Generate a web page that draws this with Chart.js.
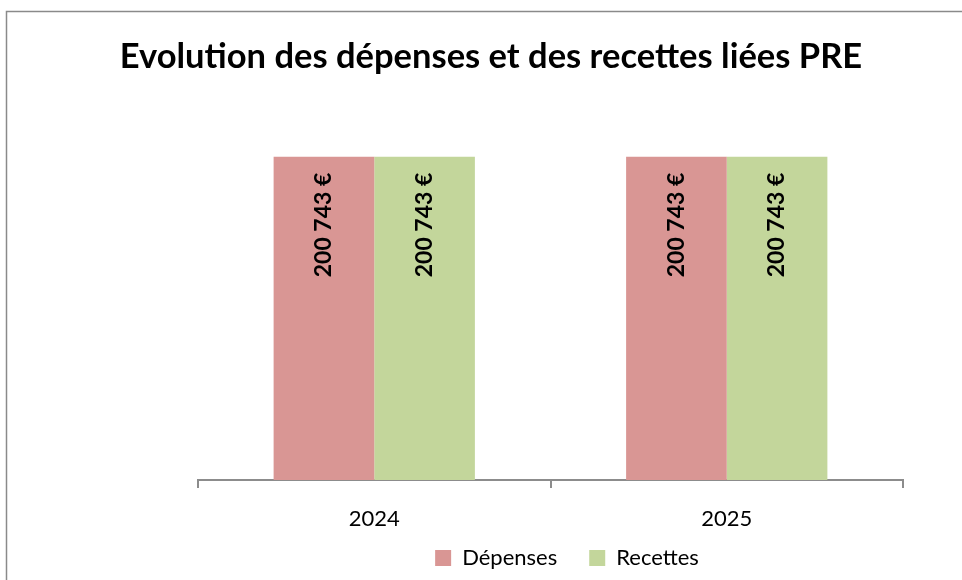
<!DOCTYPE html>
<html>
<head>
<meta charset="utf-8">
<script src="https://cdn.jsdelivr.net/npm/chart.js@4.4.1/dist/chart.umd.min.js"></script>
<style>
  html, body { margin: 0; padding: 0; background: #ffffff; }
  #wrap { width: 962px; height: 580px; }
</style>
</head>
<body>
<div id="wrap"><canvas id="c" width="962" height="580"></canvas></div>
<script>
const categories = ['2024', '2025'];
const depenses = [200743, 200743];
const recettes = [200743, 200743];
const seriesNames = ['Dépenses', 'Recettes'];
const titleText = 'Evolution des dépenses et des recettes liées PRE';

function fmtEuro(v) {
  return v.toString().replace(/\B(?=(\d{3})+(?!\d))/g, ' ') + ' €';
}

const frame = {
  id: 'frame',
  beforeDraw(chart) {
    const ctx = chart.ctx;
    ctx.save();
    ctx.strokeStyle = '#8a8a8a';
    ctx.lineWidth = 1.5;
    ctx.strokeRect(6.5, 11.5, 1100, 1000);
    ctx.restore();
  },
  afterLayout(chart) {
    const lg = chart.legend;
    if (lg) { lg.left += 76; lg.right += 76; }
    const xs = chart.scales.x;
    if (xs) { xs.bottom = xs.top + 70; }
  }
};

const barLabels = {
  id: 'barLabels',
  afterDatasetsDraw(chart) {
    const ctx = chart.ctx;
    ctx.save();
    ctx.font = 'bold 23px Lato';
    ctx.fillStyle = '#000000';
    ctx.textBaseline = 'middle';
    ctx.textAlign = 'right';
    chart.data.datasets.forEach((ds, di) => {
      const meta = chart.getDatasetMeta(di);
      meta.data.forEach((el, i) => {
        ctx.save();
        ctx.translate(el.x - 1, el.y + 16);
        ctx.rotate(-Math.PI / 2);
        ctx.fillText(fmtEuro(ds.data[i]), 0, 1);
        ctx.restore();
      });
    });
    ctx.restore();
  }
};

new Chart(document.getElementById('c'), {
  type: 'bar',
  data: {
    labels: categories,
    datasets: [
      { label: seriesNames[0], data: depenses, backgroundColor: '#D99694', borderWidth: 0 },
      { label: seriesNames[1], data: recettes, backgroundColor: '#C3D69B', borderWidth: 0 }
    ]
  },
  options: {
    responsive: false,
    animation: false,
    layout: { padding: { left: 20, right: 0, top: 0, bottom: 1 } },
    datasets: { bar: { categoryPercentage: 0.571, barPercentage: 1.0 } },
    plugins: {
      title: {
        display: true,
        text: titleText,
        color: '#000000',
        font: { family: 'Lato', size: 34.5, weight: 'bold' },
        padding: { top: 36, bottom: 0 }
      },
      legend: {
        display: true,
        position: 'bottom',
        labels: {
          color: '#000000',
          font: { family: 'Lato', size: 22 },
          boxWidth: 16,
          boxHeight: 16,
          padding: 32
        }
      },
      tooltip: { enabled: false }
    },
    scales: {
      x: {
        offset: true,
        grid: { display: true, drawOnChartArea: false, drawTicks: true, tickLength: 8, color: '#8c8c8c', lineWidth: 2, offset: true },
        border: { display: true, color: '#8c8c8c', width: 2 },
        ticks: { color: '#000000', font: { family: 'Lato', size: 22 }, padding: 18 },
        afterFit(s) { s.height = 35; }
      },
      y: {
        position: 'left',
        min: 0,
        max: 250000,
        display: true,
        grid: { display: false },
        border: { display: false },
        ticks: { display: false },
        afterFit(s) { s.width = 178; }
      },
      y2: {
        position: 'right',
        display: true,
        grid: { display: false },
        border: { display: false },
        ticks: { display: false },
        afterFit(s) { s.width = 59; }
      }
    }
  },
  plugins: [frame, barLabels]
});
</script>
</body>
</html>
